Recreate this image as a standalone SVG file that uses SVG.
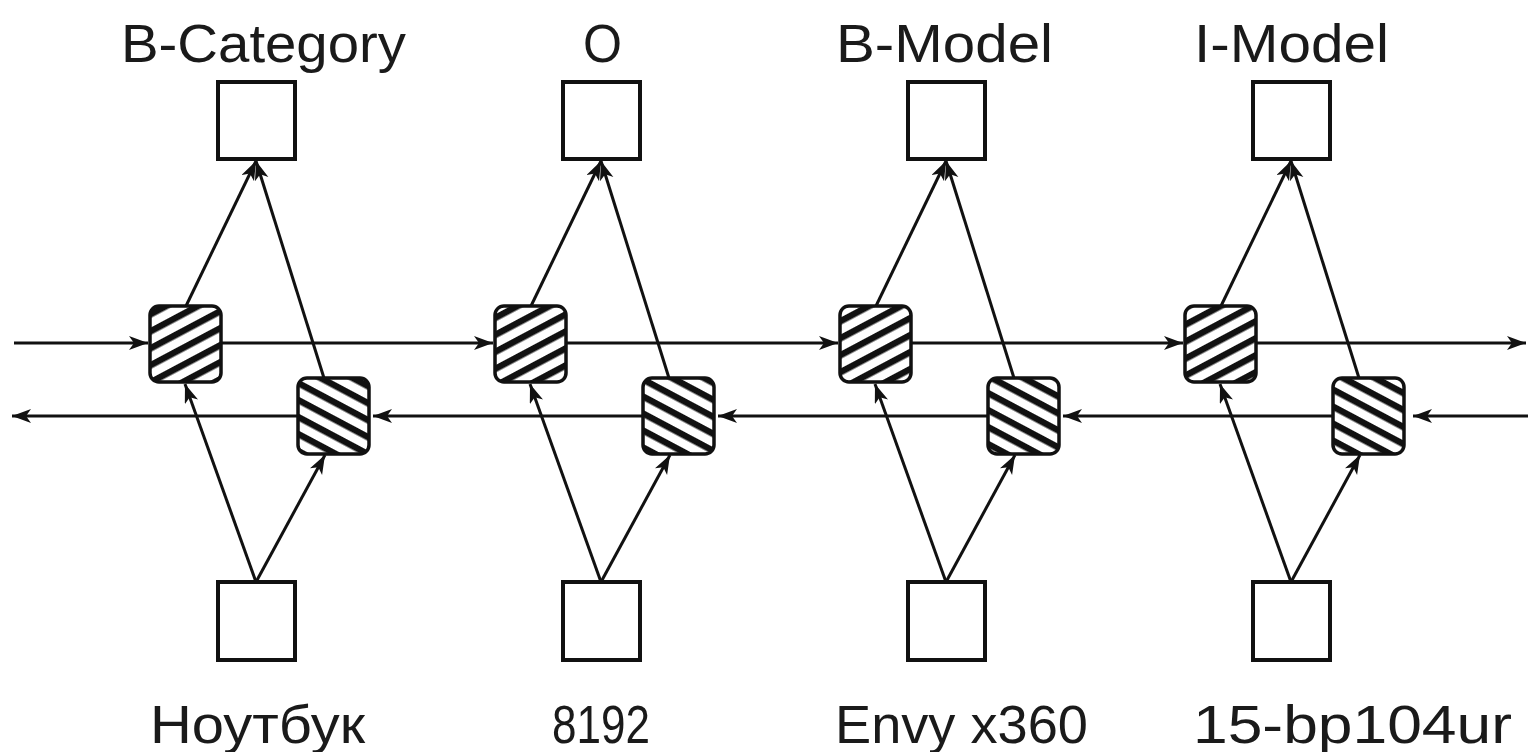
<svg xmlns="http://www.w3.org/2000/svg" width="1528" height="752" viewBox="0 0 1528 752">
<style>
.box{fill:#fff;stroke:#111;stroke-width:4}
.fcell{fill:url(#hatchF);stroke:#111;stroke-width:3.5}
.bcell{fill:url(#hatchB);stroke:#111;stroke-width:3.5}
.conn{stroke:#111;stroke-width:3;fill:none;marker-end:url(#ah)}
.lbl{font-family:"Liberation Sans",Arial,sans-serif;font-size:53px;fill:#1a1a1a}
</style>
<defs>
<pattern id="hatchF" patternUnits="userSpaceOnUse" width="15" height="15" patternTransform="rotate(-28)">
<rect width="15" height="15" fill="#fff"/>
<rect y="0" width="15" height="6.5" fill="#111"/>
</pattern>
<pattern id="hatchB" patternUnits="userSpaceOnUse" width="15" height="15" patternTransform="rotate(28)">
<rect width="15" height="15" fill="#fff"/>
<rect y="0" width="15" height="6.5" fill="#111"/>
</pattern>
<marker id="ah" markerUnits="userSpaceOnUse" markerWidth="22" markerHeight="16" refX="19" refY="7" orient="auto">
<path d="M0,0 L19,7 L0,14 L5,7 z" fill="#111"/>
</marker>
</defs>
<rect width="1528" height="752" fill="#fff"/>
<g id="connectors">
<path class="conn" d="M14,343 L148,343"/>
<path class="conn" d="M221,343 L493,343"/>
<path class="conn" d="M566,343 L838,343"/>
<path class="conn" d="M911,343 L1183,343"/>
<path class="conn" d="M1256,343 L1526,343"/>
<path class="conn" d="M1528,416 L1413,416"/>
<path class="conn" d="M1333,416 L1063,416"/>
<path class="conn" d="M988,416 L718,416"/>
<path class="conn" d="M643,416 L373,416"/>
<path class="conn" d="M298,416 L12,416"/>
<path class="conn" d="M256,582 L185,384"/>
<path class="conn" d="M256,582 L325,455"/>
<path class="conn" d="M186,306 L256,161"/>
<path class="conn" d="M324,378 L256,161"/>
<path class="conn" d="M601,582 L530,384"/>
<path class="conn" d="M601,582 L670,455"/>
<path class="conn" d="M531,306 L601,161"/>
<path class="conn" d="M669,378 L601,161"/>
<path class="conn" d="M946,582 L875,384"/>
<path class="conn" d="M946,582 L1015,455"/>
<path class="conn" d="M876,306 L946,161"/>
<path class="conn" d="M1014,378 L946,161"/>
<path class="conn" d="M1291,582 L1220,384"/>
<path class="conn" d="M1291,582 L1360,455"/>
<path class="conn" d="M1221,306 L1291,161"/>
<path class="conn" d="M1359,378 L1291,161"/>
</g>
<g id="out1"><rect class="box" x="218" y="82" width="77" height="77"/><text class="lbl" x="121" y="62" textLength="285" lengthAdjust="spacingAndGlyphs">B-Category</text></g>
<g id="out2"><rect class="box" x="563" y="82" width="77" height="77"/><text class="lbl" x="583" y="62" textLength="39" lengthAdjust="spacingAndGlyphs">O</text></g>
<g id="out3"><rect class="box" x="908" y="82" width="77" height="77"/><text class="lbl" x="836" y="62" textLength="217" lengthAdjust="spacingAndGlyphs">B-Model</text></g>
<g id="out4"><rect class="box" x="1253" y="82" width="77" height="77"/><text class="lbl" x="1194" y="62" textLength="195" lengthAdjust="spacingAndGlyphs">I-Model</text></g>
<g id="fwd1"><rect class="fcell" x="150" y="306" width="71" height="76" rx="9"/></g>
<g id="fwd2"><rect class="fcell" x="495" y="306" width="71" height="76" rx="9"/></g>
<g id="fwd3"><rect class="fcell" x="840" y="306" width="71" height="76" rx="9"/></g>
<g id="fwd4"><rect class="fcell" x="1185" y="306" width="71" height="76" rx="9"/></g>
<g id="bwd1"><rect class="bcell" x="298" y="378" width="71" height="76" rx="9"/></g>
<g id="bwd2"><rect class="bcell" x="643" y="378" width="71" height="76" rx="9"/></g>
<g id="bwd3"><rect class="bcell" x="988" y="378" width="71" height="76" rx="9"/></g>
<g id="bwd4"><rect class="bcell" x="1333" y="378" width="71" height="76" rx="9"/></g>
<g id="in1"><rect class="box" x="218" y="582" width="77" height="78"/><text class="lbl" x="150" y="743" textLength="215" lengthAdjust="spacingAndGlyphs">Ноутбук</text></g>
<g id="in2"><rect class="box" x="563" y="582" width="77" height="78"/><text class="lbl" x="552" y="743" textLength="98" lengthAdjust="spacingAndGlyphs">8192</text></g>
<g id="in3"><rect class="box" x="908" y="582" width="77" height="78"/><text class="lbl" x="835" y="743" textLength="253" lengthAdjust="spacingAndGlyphs">Envy x360</text></g>
<g id="in4"><rect class="box" x="1253" y="582" width="77" height="78"/><text class="lbl" x="1193" y="743" textLength="319" lengthAdjust="spacingAndGlyphs">15-bp104ur</text></g>
</svg>
